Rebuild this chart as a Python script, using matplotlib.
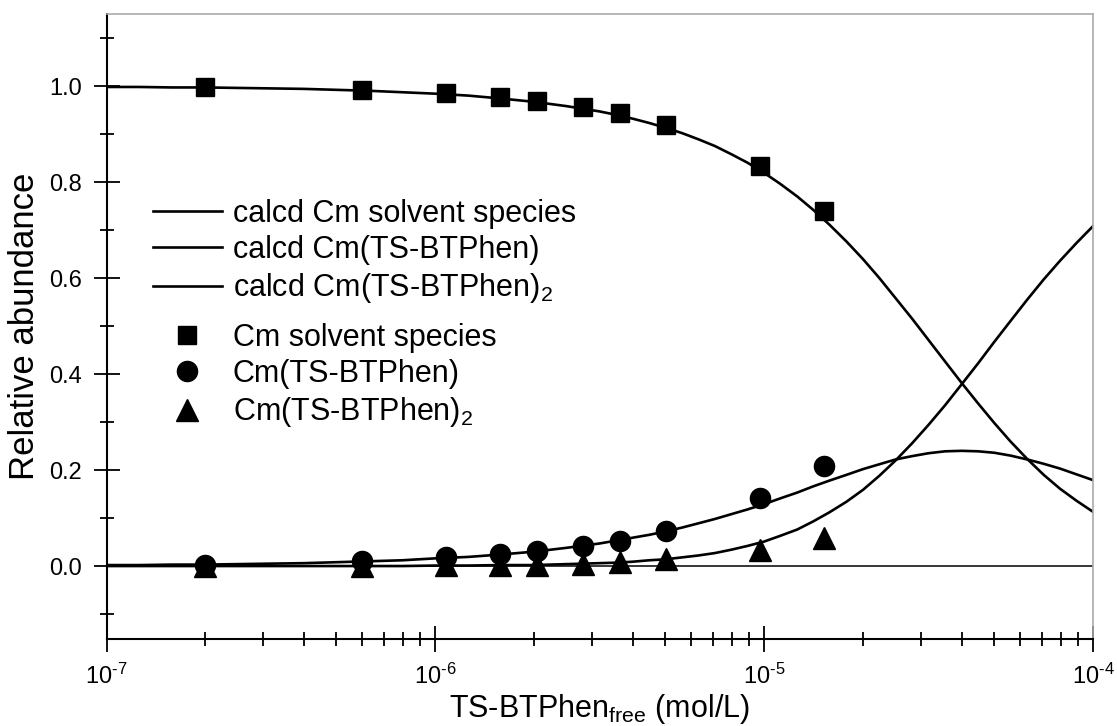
import matplotlib
matplotlib.use("Agg")
import matplotlib.pyplot as plt
from matplotlib.ticker import FixedLocator, FormatStrFormatter, LogLocator, NullFormatter

plt.rcParams['font.family'] = ['Liberation Sans', 'DejaVu Sans']
plt.rcParams['mathtext.fontset'] = 'custom'
plt.rcParams['mathtext.rm'] = 'Liberation Sans'
plt.rcParams['mathtext.it'] = 'Liberation Sans:italic'
plt.rcParams['mathtext.default'] = 'regular'
plt.rcParams['axes.unicode_minus'] = False

# ---------------- data ----------------
x_exp = [2.0e-7, 6.0e-7, 1.08e-6, 1.57e-6, 2.04e-6, 2.81e-6, 3.65e-6, 5.03e-6, 9.7e-6, 1.52e-5]
solvent_exp = [0.997, 0.992, 0.985, 0.977, 0.969, 0.956, 0.944, 0.919, 0.833, 0.740]
complex1_exp = [0.003, 0.010, 0.018, 0.025, 0.032, 0.042, 0.053, 0.072, 0.141, 0.209]
complex2_exp = [0.001, 0.001, 0.002, 0.002, 0.003, 0.004, 0.008, 0.015, 0.033, 0.058]

x_calc = [1.0e-7, 1.26e-7, 1.58e-7, 2.0e-7, 2.51e-7, 3.16e-7, 3.98e-7, 5.01e-7, 6.31e-7, 7.94e-7,
          1.0e-6, 1.26e-6, 1.58e-6, 2.0e-6, 2.51e-6, 3.16e-6, 3.55e-6, 3.98e-6, 4.47e-6, 5.01e-6,
          5.62e-6, 6.31e-6, 7.08e-6, 7.94e-6, 8.91e-6, 1.0e-5, 1.12e-5, 1.26e-5, 1.41e-5, 1.58e-5,
          1.78e-5, 2.0e-5, 2.24e-5, 2.51e-5, 2.82e-5, 3.16e-5, 3.55e-5, 3.98e-5, 4.47e-5, 5.01e-5,
          5.62e-5, 6.31e-5, 7.08e-5, 7.94e-5, 8.91e-5, 1.0e-4]
solvent_calc = [0.998, 0.998, 0.997, 0.997, 0.996, 0.995, 0.994, 0.992, 0.990, 0.987,
                0.984, 0.980, 0.974, 0.967, 0.958, 0.947, 0.940, 0.932, 0.923, 0.913,
                0.902, 0.889, 0.875, 0.858, 0.840, 0.819, 0.796, 0.770, 0.742, 0.711,
                0.676, 0.639, 0.600, 0.558, 0.515, 0.471, 0.426, 0.382, 0.339, 0.298,
                0.259, 0.223, 0.190, 0.161, 0.136, 0.113]
complex1_calc = [0.002, 0.002, 0.003, 0.003, 0.004, 0.005, 0.006, 0.008, 0.010, 0.012,
                 0.016, 0.019, 0.024, 0.030, 0.038, 0.047, 0.053, 0.059, 0.065, 0.072,
                 0.080, 0.089, 0.098, 0.108, 0.118, 0.129, 0.141, 0.153, 0.166, 0.178,
                 0.190, 0.202, 0.212, 0.222, 0.229, 0.235, 0.239, 0.240, 0.239, 0.236,
                 0.230, 0.222, 0.213, 0.203, 0.191, 0.179]
complex2_calc = [0.000, 0.000, 0.000, 0.000, 0.000, 0.000, 0.000, 0.000, 0.000, 0.000,
                 0.001, 0.001, 0.002, 0.002, 0.004, 0.006, 0.007, 0.009, 0.012, 0.014,
                 0.018, 0.022, 0.027, 0.034, 0.042, 0.051, 0.063, 0.076, 0.093, 0.112,
                 0.134, 0.159, 0.188, 0.220, 0.256, 0.294, 0.335, 0.378, 0.422, 0.467,
                 0.511, 0.555, 0.597, 0.636, 0.673, 0.708]

line_labels = ['calcd Cm solvent species', 'calcd Cm(TS-BTPhen)', 'calcd Cm(TS-BTPhen)$_2$']
point_labels = ['Cm solvent species', 'Cm(TS-BTPhen)', 'Cm(TS-BTPhen)$_2$']
x_major = [1e-7, 1e-6, 1e-5, 1e-4]
x_tick_labels = ['10$^{\\text{-7}}$', '10$^{\\text{-6}}$', '10$^{\\text{-5}}$', '10$^{\\text{-4}}$']
y_major = [0.0, 0.2, 0.4, 0.6, 0.8, 1.0]
y_minor = [-0.1, 0.1, 0.3, 0.5, 0.7, 0.9, 1.1]

# ---------------- figure ----------------
fig = plt.figure(figsize=(11.17, 7.26), dpi=100)
ax = fig.add_axes([106.5 / 1117, 87 / 726, 986.5 / 1117, 625 / 726])

ax.axhline(0.0, color='black', lw=1.1, zorder=1)

lw = 1.9
l1, = ax.plot(x_calc, solvent_calc, color='black', lw=lw, zorder=2)
l2, = ax.plot(x_calc, complex1_calc, color='black', lw=lw, zorder=2)
l3, = ax.plot(x_calc, complex2_calc, color='black', lw=lw, zorder=2)

p1, = ax.plot(x_exp, solvent_exp, ls='none', marker='s', ms=13.5, color='black', zorder=3)
p2, = ax.plot(x_exp, complex1_exp, ls='none', marker='o', ms=14.5, color='black', zorder=3)
p3, = ax.plot(x_exp, complex2_exp, ls='none', marker='^', ms=16, color='black', zorder=3)

ax.set_xscale('log')
ax.set_xlim(1e-7, 1e-4)
ax.set_ylim(-0.152, 1.15)

ax.xaxis.set_major_locator(FixedLocator(x_major))
ax.set_xticklabels(x_tick_labels)
ax.xaxis.set_minor_locator(LogLocator(base=10, subs=[2, 3, 4, 5, 6, 7, 8, 9], numticks=20))
ax.xaxis.set_minor_formatter(NullFormatter())
ax.yaxis.set_major_locator(FixedLocator(y_major))
ax.yaxis.set_minor_locator(FixedLocator(y_minor))
ax.yaxis.set_major_formatter(FormatStrFormatter('%.1f'))

ax.tick_params(which='major', direction='inout', length=19, width=1.3, labelsize=17,
               top=False, right=False)
ax.tick_params(axis='x', which='major', pad=8.5)
ax.tick_params(axis='y', which='major', pad=8)
ax.tick_params(which='minor', direction='inout', length=10, width=1.3, top=False, right=False)

for s in ['left', 'bottom']:
    ax.spines[s].set_linewidth(1.5)
    ax.spines[s].set_color('black')
for s in ['top', 'right']:
    ax.spines[s].set_linewidth(1.2)
    ax.spines[s].set_color('#aaaaaa')

ax.set_xlabel('TS-BTPhen$_{free}$ (mol/L)', fontsize=22)
ax.set_ylabel('Relative abundance', fontsize=25)
ax.xaxis.set_label_coords(0.5, -0.085)
ax.yaxis.set_label_coords(-0.066, 0.5)

leg_kw = dict(loc='upper left', bbox_transform=fig.transFigure, frameon=False, fontsize=22,
              handlelength=2.25, handletextpad=0.36, labelspacing=0.2,
              borderpad=0, borderaxespad=0, numpoints=1)
leg1 = ax.legend([l1, l2, l3], line_labels,
                 bbox_to_anchor=(153 / 1117, (726 - 199) / 726), **leg_kw)
ax.add_artist(leg1)
leg2 = ax.legend([p1, p2, p3], point_labels,
                 bbox_to_anchor=(153 / 1117, (726 - 323) / 726), **leg_kw)

fig.savefig('out.png', dpi=100)
